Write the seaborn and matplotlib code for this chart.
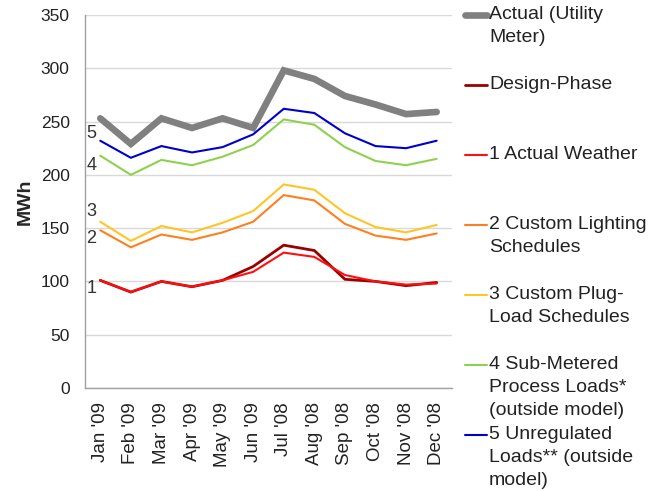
import numpy as np
import pandas as pd
import matplotlib
matplotlib.use("Agg")
import matplotlib.pyplot as plt
from matplotlib.lines import Line2D
import seaborn as sns

sns.set_style("white")
plt.rcParams['font.family'] = ['Liberation Sans', 'DejaVu Sans']

# data (MWh per month)
months = ["Jan '09", "Feb '09", "Mar '09", "Apr '09", "May '09", "Jun '09",
          "Jul '08", "Aug '08", "Sep '08", "Oct '08", "Nov '08", "Dec '08"]
actual = [253, 229, 253, 244, 253, 244, 298, 290, 274, 266, 257, 259]
design = [101, 90, 100, 95, 101, 114, 134, 129, 102, 100, 96, 99]
weather = [101, 90, 100, 95, 101, 109, 127, 123, 106, 100, 97, 98]
lighting = [148, 132, 144, 139, 146, 156, 181, 176, 154, 143, 139, 145]
plugload = [156, 138, 152, 146, 155, 166, 191, 186, 164, 151, 146, 153]
submetered = [218, 200, 214, 209, 217, 228, 252, 247, 226, 213, 209, 215]
unregulated = [232, 216, 227, 221, 226, 238, 262, 258, 239, 227, 225, 232]

labels = ["Actual (Utility\nMeter)", "Design-Phase", "1 Actual Weather",
          "2 Custom Lighting\nSchedules", "3 Custom Plug-\nLoad Schedules",
          "4 Sub-Metered\nProcess Loads*\n(outside model)",
          "5 Unregulated\nLoads** (outside\nmodel)"]
series = [actual, design, weather, lighting, plugload, submetered, unregulated]
colors = ["#808080", "#990000", "#FF1010", "#FF7F1E", "#FFC524", "#8FD14F", "#0000CC"]
widths = [4.8, 2.0, 1.5, 1.5, 1.5, 1.5, 1.5]
step_labels = ["", "", "1", "2", "3", "4", "5"]

fig = plt.figure(figsize=(6.66, 4.91), dpi=100)
ax = fig.add_axes([0.1276, 0.2098, 0.551, 0.7597])

x = np.arange(len(months))
for vals, col, lw in zip(series, colors, widths):
    df = pd.DataFrame({"m": x, "v": vals})
    sns.lineplot(data=df, x="m", y="v", color=col, linewidth=lw, ax=ax,
                 solid_joinstyle="miter")

# step numbers next to the first point
offs = {"1": -8, "2": -7.5, "3": 9.5, "4": -9.5, "5": 7}
for vals, lab in zip(series, step_labels):
    if lab:
        ax.text(-0.46, vals[0] + offs[lab], lab, fontsize=13, color="#333333",
                ha="left", va="center")

ax.set_xlim(-0.5, len(months) - 0.5)
ax.set_ylim(0, 350)
ax.set_yticks(range(0, 351, 50))
ax.set_xticks(x)
ax.set_xticklabels(months, rotation=90, fontsize=13.5, color="#222222")
ax.set_xticks(np.arange(-0.5, len(months), 1), minor=True)
ax.tick_params(axis="x", which="major", length=0, pad=10)
ax.tick_params(axis="x", which="minor", length=5, color="#A0A0A0", width=1)
ax.tick_params(axis="y", length=5, color="#A0A0A0", labelsize=12.5,
               labelcolor="#222222", pad=6)
ax.set_xlabel("")
ax.set_ylabel("MWh", fontsize=14, fontweight="bold", labelpad=5)
ax.grid(axis="y", color="#D9D9D9", linewidth=1)
ax.set_axisbelow(True)
for s in ["top", "right"]:
    ax.spines[s].set_visible(False)
for s in ["left", "bottom"]:
    ax.spines[s].set_color("#A0A0A0")
    ax.spines[s].set_linewidth(1)

# legend drawn by hand so the key lines up with the first text row
W, H = 666, 491
for i, (lab, col, lw) in enumerate(zip(labels, colors, widths)):
    yc = 15 + 70 * i
    fig.add_artist(Line2D([465 / W, 487 / W], [1 - yc / H, 1 - yc / H],
                          color=col, linewidth=lw, solid_capstyle="round"))
    fig.text(489 / W, 1 - (yc - 9) / H, lab, fontsize=14, color="#222222",
             ha="left", va="top", linespacing=1.45)

fig.savefig("out.png", dpi=100)
